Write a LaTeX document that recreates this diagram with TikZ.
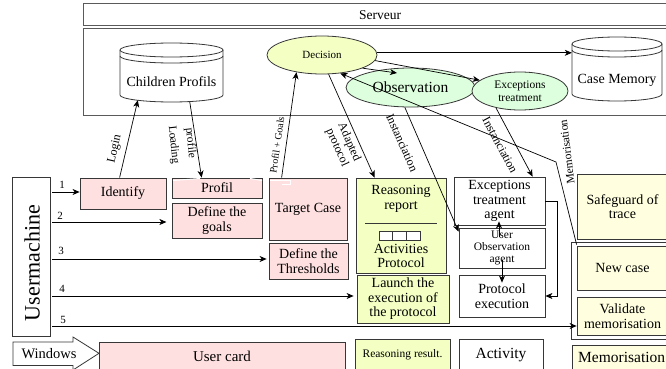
\documentclass[tikz,border=0pt]{standalone}
\usepackage{fontspec}
\setmainfont{Liberation Serif}
\usetikzlibrary{arrows.meta,calc,shapes.geometric}
\definecolor{pinkf}{RGB}{255,224,224}
\definecolor{ygf}{RGB}{244,255,196}
\definecolor{mintf}{RGB}{221,255,221}
\definecolor{lyf}{RGB}{255,255,224}
\definecolor{bord}{RGB}{55,55,55}
\definecolor{framec}{RGB}{90,90,90}
\newcommand{\myfs}[2]{\fontsize{#1}{#2}\selectfont}
\begin{document}
\begin{tikzpicture}[x=1pt,y=-1pt,
  box/.style={draw=bord, line width=0.8pt, inner sep=0pt, align=center, font={\myfs{14}{14.5}}},
  pinkbox/.style={box, fill=pinkf},
  ygbox/.style={box, fill=ygf},
  lybox/.style={box, fill=lyf},
  whbox/.style={box, fill=white},
  ell/.style={ellipse, draw=bord, line width=0.8pt, inner sep=0pt, align=center},
  arr/.style={draw=black, line width=0.7pt, -{Stealth[length=7pt,width=6pt,inset=2pt]}},
  lbl/.style={inner sep=0pt, align=center, font={\myfs{12}{13}}},
  cyl/.style={draw=bord, line width=0.8pt},
  ghost/.style={inner sep=0pt, draw=none},
]
\useasboundingbox (0,0) rectangle (666,369);
\clip (0,0) rectangle (666,369);

% server frames
\node[draw=framec, line width=1pt, minimum width=594, minimum height=22, inner sep=0pt, font={\myfs{13.5}{14}}] (serveur) at (380,15) {Serveur};
\node[draw=framec, line width=1pt, minimum width=594, minimum height=86, inner sep=0pt] (server) at (380,72) {};

% Children Profils cylinder
\fill[white] (120,50) -- (120,95) arc[start angle=180, end angle=0, x radius=51.5, y radius=7] -- (223,50) -- cycle;
\draw[cyl] (120,50) -- (120,95) arc[start angle=180, end angle=0, x radius=51.5, y radius=7] -- (223,50);
\draw[cyl, fill=white] (171.5,50) ellipse[x radius=51.5, y radius=7];
\draw[cyl] (120,56) arc[start angle=180, end angle=0, x radius=51.5, y radius=7];
\node[ghost, minimum width=103, minimum height=59] (childcyl) at (171.5,72.5) {};
\node[font={\myfs{14}{14}}] (childtxt) at (171.5,82) {Children Profils};

% Case Memory cylinder
\fill[white] (572,44) -- (572,94) arc[start angle=180, end angle=0, x radius=45, y radius=7] -- (662,44) -- cycle;
\draw[cyl] (572,44) -- (572,94) arc[start angle=180, end angle=0, x radius=45, y radius=7] -- (662,44);
\draw[cyl, fill=white] (617,44) ellipse[x radius=45, y radius=7];
\draw[cyl] (572,50) arc[start angle=180, end angle=0, x radius=45, y radius=7];
\node[ghost, minimum width=90, minimum height=64] (memcyl) at (617,69) {};
\node[font={\myfs{14}{14}}] (memtxt) at (617,80) {Case Memory};

% ellipses
\node[ell, fill=ygf, minimum width=110, minimum height=38, font={\myfs{11}{12}}] (decision) at (322,55) {Decision};
\node[ell, fill=mintf, minimum width=129, minimum height=39, font={\myfs{15.5}{16}}] (obs) at (410.5,87.5) {Observation};
\node[ell, fill=mintf, minimum width=96, minimum height=38, font={\myfs{11.5}{12.5}}] (exctreat) at (520,91) {Exceptions\\treatment};

% user machine
\node[whbox, minimum width=38, minimum height=159] (usermachine) at (31,256.5) {};
\node[rotate=90, font={\myfs{22}{22}}] (umtext) at (32,263) {Usermachine};

% boxes
\node[pinkbox, minimum width=86, minimum height=31] (identify) at (123,193.5) {Identify};
\node[pinkbox, minimum width=90, minimum height=20] (profil) at (217,188) {Profil};
\node[pinkbox, minimum width=90, minimum height=35] (goals) at (217,220.5) {Define the\\goals};
\node[pinkbox, minimum width=78, minimum height=62] (target) at (308,209) {Target Case};
\node[pinkbox, minimum width=79, minimum height=36] (thresh) at (308.5,261) {Define the\\Thresholds};
\node[ygbox, minimum width=90, minimum height=95] (report) at (401,225.5) {};
\node[font={\myfs{14}{14.5}}, align=center] (reptitle) at (401,199) {Reasoning\\report};
\draw[draw=bord, line width=0.8pt] ($(report.center)+(-36,-2.5)$) -- ($(report.center)+(36,-2.5)$);
\node[draw=bord, fill=white, line width=0.8pt, inner sep=0pt, minimum width=13.7, minimum height=9] (sq1) at (385.8,235.5) {};
\node[draw=bord, fill=white, line width=0.8pt, inner sep=0pt, minimum width=13.7, minimum height=9] (sq2) at (399.5,235.5) {};
\node[draw=bord, fill=white, line width=0.8pt, inner sep=0pt, minimum width=13.7, minimum height=9] (sq3) at (413.2,235.5) {};
\node[font={\myfs{14}{14.5}}, align=center] (actprot) at (401,256) {Activities\\Protocol};
\node[ygbox, minimum width=92, minimum height=48] (launch) at (403,299) {Launch the\\execution of\\the protocol};
\node[whbox, minimum width=91, minimum height=48] (excagent) at (499.5,201) {Exceptions\\treatment\\agent};
\node[whbox, minimum width=86, minimum height=40, font={\myfs{11.5}{12}}] (obsagent) at (502,248) {User\\Observation\\agent};
\node[whbox, minimum width=86, minimum height=42] (protexec) at (502,296) {Protocol\\execution};
\node[lybox, minimum width=91, minimum height=65] (safeguard) at (622.5,206.5) {Safeguard of\\trace};
\node[whbox, minimum width=99, minimum height=97] (group) at (620.5,290.5) {};
\node[lybox, minimum width=91, minimum height=44] (newcase) at (622.5,268) {New case};
\node[lybox, minimum width=91, minimum height=38] (validate) at (622.5,316) {Validate\\memorisation};

% bottom legend row
\draw[draw=bord, line width=0.8pt, fill=white] (13,342) -- (73,342) -- (73,337) -- (99,353.3) -- (73,370) -- (73,365.5) -- (13,365.5) -- cycle;
\node[font={\myfs{14.5}{15}}] (windows) at (49,354) {Windows};
\node[pinkbox, minimum width=246, minimum height=29, font={\myfs{15}{15}}] (usercard) at (222,356.5) {User card};
\node[ygbox, minimum width=95, minimum height=32, font={\myfs{11.5}{12}}] (reasres) at (402.5,355) {Reasoning result.};
\node[whbox, minimum width=84, minimum height=32, font={\myfs{15.5}{16}}] (activity) at (501,355) {Activity};
\node[lybox, minimum width=96, minimum height=30] (memobox) at (620,360) {};
\node[anchor=west, inner sep=0pt, font={\myfs{15.5}{16}}] (memotext) at (578,357) {Memorisation};

% white artifacts on borders
\draw[white, line width=1pt] (173,180.5) -- (200,178.5);
\draw[white, line width=1pt] (250,178.5) -- (262,180.5);
\draw[white, line width=1pt] (270,180.5) -- (290,180.5) -- (290,184) -- (282,184);

% user machine arrows
\coordinate (u1) at (52,192);
\coordinate (u2) at (52,222);
\coordinate (u3) at (52,259);
\coordinate (u4) at (52,296);
\coordinate (u5) at (52,326);
\draw[arr] (u1) -- (identify.west |- u1);
\draw[arr] (u2) -- (identify.east |- u2);
\draw[arr] (u3) -- ($(thresh.west |- u3)+(-2,0)$);
\draw[arr] (u4) -- ($(launch.west |- u4)+(-3,0)$);
\draw[arr] (u5) -- (validate.west |- u5);
\node[lbl, font={\myfs{11}{11}}] (n1) at (62,185) {1};
\node[lbl, font={\myfs{11}{11}}] (n2) at (60,216) {2};
\node[lbl, font={\myfs{11}{11}}] (n3) at (61,251) {3};
\node[lbl, font={\myfs{11}{11}}] (n4) at (62,289) {4};
\node[lbl, font={\myfs{11}{11}}] (n5) at (63,320) {5};

% server connectors
\coordinate (cmin) at ($(memcyl.north west)+(0,16)$);
\draw[arr] (decision.east |- cmin) -- (cmin);
\draw[arr] (decision.354) -- (exctreat.165);
\draw[arr] (decision.342) -- ($(obs.center)+(-13.5,-14.5)$);
\coordinate (memob) at (556,162);
\draw[arr] ($(newcase.north west)+(0,-1)$) -- (memob) -- (decision.315);

\draw[arr] ($(identify.north west)+(40,0)$) -- ($(childcyl.south west)+(18,-2)$);
\draw[arr] ($(childcyl.south west)+(70,0)$) -- ($(profil.north west)+(30,0)$);
\draw[arr] ($(target.north west)+(13,0)$) -- (decision.214);
\draw[arr] (decision.289) -- ($(report.north west)+(19,0)$);
\draw[arr] (obs.254) -- ($(obsagent.north west)+(0,4)$);
\draw[arr] (exctreat.215) -- ($(excagent.north west)+(79,0)$);

\draw[arr] ($(obsagent.north)+(-3,9)$) -- ($(excagent.south)+(-0.5,-4)$);
\draw[arr] ($(obsagent.south)+(0,-8)$) -- ($(protexec.north)+(0,8)$);
\draw[arr] (excagent.east) -- ++(12,0) |- (protexec.east);

% connector labels
\node[lbl, rotate=77] (login) at (115,149) {Login};
\node[lbl, rotate=-84, font={\myfs{11.5}{17}}] (loading) at (182,144) {profile\\Loading};
\node[lbl, rotate=82, font={\myfs{10}{11}}] (pg) at (277,145) {Profil + Goals};
\node[lbl, rotate=-66] (adapted) at (343,145) {Adapted\\protocol};
\node[lbl, rotate=-66] (inst1) at (402,143) {Instanciation};
\node[lbl, rotate=-62] (inst2) at (500,145) {Instanciation};
\node[lbl, rotate=97, font={\myfs{11.5}{12}}] (memolbl) at (567,152) {Memorisation};
\end{tikzpicture}
\end{document}
